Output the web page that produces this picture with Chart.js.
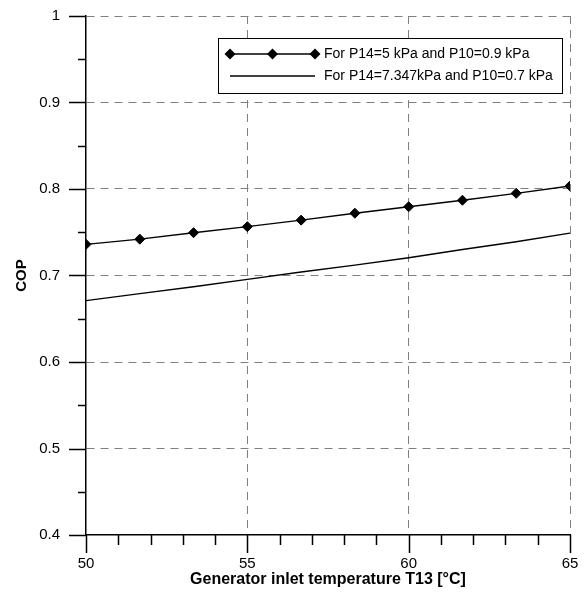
<!DOCTYPE html>
<html>
<head>
<meta charset="utf-8">
<script src="https://cdn.jsdelivr.net/npm/chart.js@4.4.0/dist/chart.umd.min.js"></script>
<style>
  html, body { margin: 0; padding: 0; background: #fff; }
  #wrap { width: 586px; height: 600px; }
</style>
</head>
<body>
<div id="wrap"><canvas id="c" width="586" height="600"></canvas></div>
<script>
// values
const temps = [50, 51.667, 53.333, 55, 56.667, 58.333, 60, 61.667, 63.333, 65];
const copHigh = [0.736, 0.742, 0.7495, 0.7565, 0.764, 0.772, 0.7795, 0.787, 0.795, 0.8035];
const copLow = [0.671, 0.679, 0.687, 0.6955, 0.704, 0.712, 0.7205, 0.730, 0.739, 0.749];
const seriesLabels = ["For P14=5 kPa and P10=0.9 kPa", "For P14=7.347kPa and P10=0.7 kPa"];
const xTitle = "Generator inlet temperature T13 [\u00B0C]";
const yTitle = "COP";

const FONT = "'Liberation Sans', Arial, sans-serif";
const GRID = "#7f7f7f";

// minor / major tick marks drawn outward from the axes
const tickMarks = {
  id: "tickMarks",
  afterDraw(chart) {
    const ctx = chart.ctx;
    const x = chart.scales.x, y = chart.scales.y;
    const area = chart.chartArea;
    ctx.save();
    ctx.strokeStyle = "#000";
    ctx.lineWidth = 1.5;
    ctx.beginPath();
    for (let v = x.min; v <= x.max + 1e-9; v += 1) {
      const px = Math.round(x.getPixelForValue(v)) + 0.5;
      const len = Math.round(v) % 5 === 0 ? 18 : 10;
      ctx.moveTo(px, area.bottom);
      ctx.lineTo(px, area.bottom + len);
    }
    for (let i = 0; i <= 12; i++) {
      const v = y.min + i * 0.05;
      const py = Math.round(y.getPixelForValue(v)) + 0.5;
      const len = i % 2 === 0 ? 17 : 8;
      ctx.moveTo(area.left, py);
      ctx.lineTo(area.left - len, py);
    }
    ctx.stroke();
    ctx.restore();
  }
};

// boxed legend inside the plot, upper right
const boxLegend = {
  id: "boxLegend",
  afterDraw(chart) {
    const ctx = chart.ctx;
    const bx = 218, by = 38, bw = 344, bh = 55;
    ctx.save();
    ctx.fillStyle = "#fff";
    ctx.fillRect(bx, by, bw, bh);
    ctx.strokeStyle = "#000";
    ctx.lineWidth = 1;
    ctx.strokeRect(bx + 0.5, by + 0.5, bw, bh);
    ctx.font = "14px " + FONT;
    ctx.textBaseline = "middle";
    chart.data.datasets.forEach((ds, i) => {
      const ly = by + 16 + i * 22;
      const x0 = 230, x1 = 315;
      ctx.strokeStyle = ds.borderColor;
      ctx.lineWidth = ds.borderWidth;
      ctx.beginPath();
      ctx.moveTo(x0, ly);
      ctx.lineTo(x1, ly);
      ctx.stroke();
      if (ds.pointRadius > 0) {
        [x0, (x0 + x1) / 2, x1].forEach((mx) => {
          const r = ds.pointRadius + 0.5;
          ctx.fillStyle = ds.pointBackgroundColor;
          ctx.beginPath();
          ctx.moveTo(mx - r, ly);
          ctx.lineTo(mx, ly - r);
          ctx.lineTo(mx + r, ly);
          ctx.lineTo(mx, ly + r);
          ctx.closePath();
          ctx.fill();
        });
      }
      ctx.fillStyle = "#000";
      ctx.fillText(ds.label, 324, ly);
    });
    ctx.restore();
  }
};

new Chart(document.getElementById("c"), {
  type: "line",
  data: {
    datasets: [
      {
        label: seriesLabels[0],
        data: temps.map((t, i) => ({ x: t, y: copHigh[i] })),
        borderColor: "#000",
        borderWidth: 1.4,
        pointStyle: "rectRot",
        pointRadius: 5,
        pointBackgroundColor: "#000",
        pointBorderColor: "#000",
        pointBorderWidth: 1,
        tension: 0
      },
      {
        label: seriesLabels[1],
        data: temps.map((t, i) => ({ x: t, y: copLow[i] })),
        borderColor: "#000",
        borderWidth: 1.4,
        pointRadius: 0,
        tension: 0
      }
    ]
  },
  options: {
    responsive: false,
    animation: false,
    devicePixelRatio: 1,
    layout: { padding: { top: 16, right: 16, left: 0, bottom: 0 } },
    plugins: {
      legend: { display: false },
      tooltip: { enabled: false }
    },
    scales: {
      x: {
        type: "linear",
        min: 50,
        max: 65,
        afterFit: (s) => { s.height = 65; s.paddingLeft = 0; s.paddingRight = 0; },
        ticks: {
          stepSize: 5,
          padding: 20,
          maxRotation: 0,
          color: "#000",
          font: { family: FONT, size: 15 }
        },
        grid: {
          drawTicks: false,
          lineWidth: 1,
          color: (c) => (c.tick && c.tick.value === 50 ? "rgba(0,0,0,0)" : GRID)
        },
        border: { display: true, color: "#000", width: 1.5, dash: [8, 6] },
        title: {
          display: true,
          text: xTitle,
          color: "#000",
          font: { family: FONT, size: 16, weight: "bold" },
          padding: { top: 11, bottom: 11 }
        }
      },
      y: {
        min: 0.4,
        max: 1,
        afterFit: (s) => { s.width = 86; s.paddingTop = 0; s.paddingBottom = 0; },
        ticks: {
          stepSize: 0.1,
          padding: 26,
          color: "#000",
          font: { family: FONT, size: 15 },
          callback: (v) => String(Math.round(v * 10) / 10)
        },
        grid: {
          drawTicks: false,
          lineWidth: 1,
          color: (c) => (c.tick && Math.abs(c.tick.value - 0.4) < 1e-6 ? "rgba(0,0,0,0)" : GRID)
        },
        border: { display: true, color: "#000", width: 1.5, dash: [8, 6] },
        title: {
          display: true,
          text: yTitle,
          color: "#000",
          font: { family: FONT, size: 15, weight: "bold" },
          padding: { top: 13, bottom: 13 }
        }
      }
    }
  },
  plugins: [tickMarks, boxLegend]
});
</script>
</body>
</html>
